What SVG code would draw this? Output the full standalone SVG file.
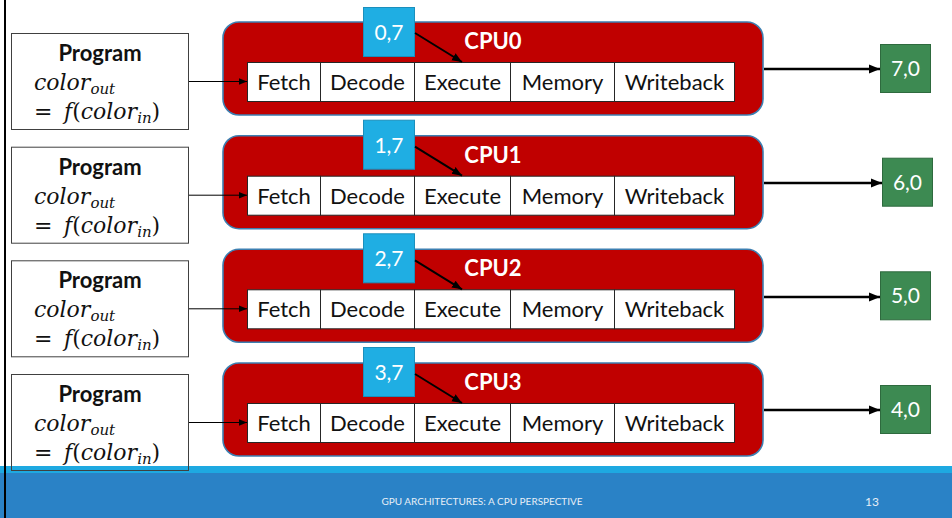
<svg xmlns="http://www.w3.org/2000/svg" width="952" height="518" viewBox="0 0 952 518">
  <defs>
    <style>
      .prog { fill: none; stroke: #404040; stroke-width: 1; }
      .cpu { fill: #C00000; stroke: #3C7FB1; stroke-width: 1.6; }
      .cell { fill: #FFFFFF; stroke: #262626; stroke-width: 1; }
      .reg { fill: #1FAEE3; stroke: #1B8FBC; stroke-width: 1; }
      .out { fill: #3D8A52; stroke: #2E6A3E; stroke-width: 1; }
      .stage { font-family: Lato, "Open Sans", sans-serif; font-size: 22px; fill: #111; text-anchor: middle; }
      .cpuname { font-family: Lato, "Open Sans", sans-serif; font-size: 22px; font-weight: bold; fill: #FFFFFF; text-anchor: middle; }
      .val { font-family: Lato, "Open Sans", sans-serif; font-size: 21px; fill: #FFFFFF; text-anchor: middle; }
      .ptitle { font-family: Lato, "Open Sans", sans-serif; font-size: 22px; font-weight: bold; fill: #111; text-anchor: middle; }
      .math { font-family: "DejaVu Serif", "Liberation Serif", serif; font-size: 22px; fill: #111; }
      .it { font-style: italic; }
      .up { font-style: normal; }
      .sub { font-size: 15px; font-style: italic; }
      .thin { stroke: #000; stroke-width: 1; fill: none; }
      .mid { stroke: #000; stroke-width: 2; fill: none; }
      .thick { stroke: #000; stroke-width: 2.6; fill: none; }
      .foot { font-family: Lato, "Open Sans", sans-serif; fill: #E6EEF6; }
    </style>
    <marker id="ahSmall" markerUnits="userSpaceOnUse" markerWidth="8" markerHeight="8" viewBox="0 0 8 8" refX="8" refY="4" orient="auto">
      <path d="M0,0.8 L8,4 L0,7.2 Z" fill="#000"/>
    </marker>
    <marker id="ahMid" markerUnits="userSpaceOnUse" markerWidth="10" markerHeight="10" viewBox="0 0 10 10" refX="10" refY="5" orient="auto">
      <path d="M0,1 L10,5 L0,9 Z" fill="#000"/>
    </marker>
    <marker id="ahBig" markerUnits="userSpaceOnUse" markerWidth="11" markerHeight="11" viewBox="0 0 11 11" refX="11" refY="5.5" orient="auto">
      <path d="M0,1 L11,5.5 L0,10 Z" fill="#000"/>
    </marker>
  </defs>

  <rect x="0" y="0" width="952" height="518" fill="#FFFFFF"/>

  <!-- footer band -->
  <g id="footer">
    <rect x="0" y="466" width="952" height="7" fill="#1EA9E1"/>
    <rect x="0" y="473" width="952" height="45" fill="#2A82C6"/>
    <text class="foot" x="482" y="505" font-size="10" text-anchor="middle">GPU ARCHITECTURES: A CPU PERSPECTIVE</text>
    <text class="foot" x="872" y="506" font-size="12" text-anchor="middle">13</text>
  </g>

  <!-- slide edge -->
  <line x1="5" y1="0" x2="5" y2="518" stroke="#000" stroke-width="2"/>

  <!-- row 0 -->
  <g id="program0" transform="translate(0,0)">
    <rect class="prog" x="11.5" y="33.5" width="177" height="96"/>
    <text class="ptitle" x="100" y="61">Program</text>
    <text class="math" x="34" y="90"><tspan class="it">color</tspan><tspan class="sub" dy="4">out</tspan></text>
    <text class="math" y="119"><tspan x="34" class="up">=</tspan><tspan x="64" class="it">f</tspan><tspan class="up">(</tspan><tspan class="it">color</tspan><tspan class="sub" dy="4">in</tspan><tspan class="up" dy="-4">)</tspan></text>
  </g>
  <g id="cpu0">
    <rect class="cpu" x="223" y="22" width="540" height="93" rx="16"/>
    <text class="cpuname" x="493" y="49">CPU0</text>
    <rect class="cell" x="247.5" y="62.5" width="73" height="39"/>
    <rect class="cell" x="320.5" y="62.5" width="94" height="39"/>
    <rect class="cell" x="414.5" y="62.5" width="96" height="39"/>
    <rect class="cell" x="510.5" y="62.5" width="104" height="39"/>
    <rect class="cell" x="614.5" y="62.5" width="120" height="39"/>
    <text class="stage" x="284" y="90">Fetch</text>
    <text class="stage" x="367.5" y="90">Decode</text>
    <text class="stage" x="462.5" y="90">Execute</text>
    <text class="stage" x="562.5" y="90">Memory</text>
    <text class="stage" x="674.5" y="90">Writeback</text>
  </g>
  <g id="in0">
    <rect class="reg" x="363.5" y="7.5" width="51" height="49"/>
    <text class="val" x="389" y="40">0,7</text>
  </g>
  <g id="out0">
    <rect class="out" x="880.5" y="44.5" width="50" height="48"/>
    <text class="val" x="905.5" y="76">7,0</text>
  </g>

  <!-- row 1 -->
  <g id="program1" transform="translate(0,113.7)">
    <rect class="prog" x="11.5" y="33.5" width="177" height="96"/>
    <text class="ptitle" x="100" y="61">Program</text>
    <text class="math" x="34" y="90"><tspan class="it">color</tspan><tspan class="sub" dy="4">out</tspan></text>
    <text class="math" y="119"><tspan x="34" class="up">=</tspan><tspan x="64" class="it">f</tspan><tspan class="up">(</tspan><tspan class="it">color</tspan><tspan class="sub" dy="4">in</tspan><tspan class="up" dy="-4">)</tspan></text>
  </g>
  <g id="cpu1" transform="translate(0,113.7)">
    <rect class="cpu" x="223" y="22" width="540" height="93" rx="16"/>
    <text class="cpuname" x="493" y="49">CPU1</text>
    <rect class="cell" x="247.5" y="62.5" width="73" height="39"/>
    <rect class="cell" x="320.5" y="62.5" width="94" height="39"/>
    <rect class="cell" x="414.5" y="62.5" width="96" height="39"/>
    <rect class="cell" x="510.5" y="62.5" width="104" height="39"/>
    <rect class="cell" x="614.5" y="62.5" width="120" height="39"/>
    <text class="stage" x="284" y="90">Fetch</text>
    <text class="stage" x="367.5" y="90">Decode</text>
    <text class="stage" x="462.5" y="90">Execute</text>
    <text class="stage" x="562.5" y="90">Memory</text>
    <text class="stage" x="674.5" y="90">Writeback</text>
  </g>
  <g id="in1" transform="translate(0,113.7)">
    <rect class="reg" x="363.5" y="6.5" width="51" height="49"/>
    <text class="val" x="389" y="39">1,7</text>
  </g>
  <g id="out1" transform="translate(0,113.7)">
    <rect class="out" x="882.5" y="44.5" width="50" height="48"/>
    <text class="val" x="907.5" y="76">6,0</text>
  </g>

  <!-- row 2 -->
  <g id="program2" transform="translate(0,227.3)">
    <rect class="prog" x="11.5" y="33.5" width="177" height="96"/>
    <text class="ptitle" x="100" y="61">Program</text>
    <text class="math" x="34" y="90"><tspan class="it">color</tspan><tspan class="sub" dy="4">out</tspan></text>
    <text class="math" y="119"><tspan x="34" class="up">=</tspan><tspan x="64" class="it">f</tspan><tspan class="up">(</tspan><tspan class="it">color</tspan><tspan class="sub" dy="4">in</tspan><tspan class="up" dy="-4">)</tspan></text>
  </g>
  <g id="cpu2" transform="translate(0,227.3)">
    <rect class="cpu" x="223" y="22" width="540" height="93" rx="16"/>
    <text class="cpuname" x="493" y="49">CPU2</text>
    <rect class="cell" x="247.5" y="62.5" width="73" height="39"/>
    <rect class="cell" x="320.5" y="62.5" width="94" height="39"/>
    <rect class="cell" x="414.5" y="62.5" width="96" height="39"/>
    <rect class="cell" x="510.5" y="62.5" width="104" height="39"/>
    <rect class="cell" x="614.5" y="62.5" width="120" height="39"/>
    <text class="stage" x="284" y="90">Fetch</text>
    <text class="stage" x="367.5" y="90">Decode</text>
    <text class="stage" x="462.5" y="90">Execute</text>
    <text class="stage" x="562.5" y="90">Memory</text>
    <text class="stage" x="674.5" y="90">Writeback</text>
  </g>
  <g id="in2" transform="translate(0,227.3)">
    <rect class="reg" x="363.5" y="6.5" width="51" height="49"/>
    <text class="val" x="389" y="39">2,7</text>
  </g>
  <g id="out2" transform="translate(0,227.3)">
    <rect class="out" x="880.5" y="44.5" width="50" height="48"/>
    <text class="val" x="905.5" y="76">5,0</text>
  </g>

  <!-- row 3 -->
  <g id="program3" transform="translate(0,341)">
    <rect class="prog" x="11.5" y="33.5" width="177" height="96"/>
    <text class="ptitle" x="100" y="61">Program</text>
    <text class="math" x="34" y="90"><tspan class="it">color</tspan><tspan class="sub" dy="4">out</tspan></text>
    <text class="math" y="119"><tspan x="34" class="up">=</tspan><tspan x="64" class="it">f</tspan><tspan class="up">(</tspan><tspan class="it">color</tspan><tspan class="sub" dy="4">in</tspan><tspan class="up" dy="-4">)</tspan></text>
  </g>
  <g id="cpu3" transform="translate(0,341)">
    <rect class="cpu" x="223" y="22" width="540" height="93" rx="16"/>
    <text class="cpuname" x="493" y="49">CPU3</text>
    <rect class="cell" x="247.5" y="62.5" width="73" height="39"/>
    <rect class="cell" x="320.5" y="62.5" width="94" height="39"/>
    <rect class="cell" x="414.5" y="62.5" width="96" height="39"/>
    <rect class="cell" x="510.5" y="62.5" width="104" height="39"/>
    <rect class="cell" x="614.5" y="62.5" width="120" height="39"/>
    <text class="stage" x="284" y="90">Fetch</text>
    <text class="stage" x="367.5" y="90">Decode</text>
    <text class="stage" x="462.5" y="90">Execute</text>
    <text class="stage" x="562.5" y="90">Memory</text>
    <text class="stage" x="674.5" y="90">Writeback</text>
  </g>
  <g id="in3" transform="translate(0,341)">
    <rect class="reg" x="363.5" y="6.5" width="51" height="49"/>
    <text class="val" x="389" y="39">3,7</text>
  </g>
  <g id="out3" transform="translate(0,341)">
    <rect class="out" x="880.5" y="44.5" width="50" height="48"/>
    <text class="val" x="905.5" y="76">4,0</text>
  </g>

  <!-- connectors -->
  <g id="connectors">
    <!-- program to fetch -->
    <line class="thin" x1="189" y1="81.5" x2="247" y2="81.5" marker-end="url(#ahSmall)"/>
    <line class="thin" x1="189" y1="195.2" x2="247" y2="195.2" marker-end="url(#ahSmall)"/>
    <line class="thin" x1="189" y1="308.8" x2="247" y2="308.8" marker-end="url(#ahSmall)"/>
    <line class="thin" x1="189" y1="422.5" x2="247" y2="422.5" marker-end="url(#ahSmall)"/>
    <!-- input value into execute -->
    <line class="mid" x1="415" y1="33" x2="462" y2="62" marker-end="url(#ahMid)"/>
    <line class="mid" x1="415" y1="146.7" x2="462" y2="175.7" marker-end="url(#ahMid)"/>
    <line class="mid" x1="415" y1="260.3" x2="462" y2="289.3" marker-end="url(#ahMid)"/>
    <line class="mid" x1="415" y1="374" x2="462" y2="403" marker-end="url(#ahMid)"/>
    <!-- cpu to output -->
    <line class="thick" x1="764" y1="69" x2="880" y2="69" marker-end="url(#ahBig)"/>
    <line class="thick" x1="764" y1="183" x2="882" y2="183" marker-end="url(#ahBig)"/>
    <line class="thick" x1="764" y1="297" x2="880" y2="297" marker-end="url(#ahBig)"/>
    <line class="thick" x1="764" y1="410" x2="880" y2="410" marker-end="url(#ahBig)"/>
  </g>
</svg>
